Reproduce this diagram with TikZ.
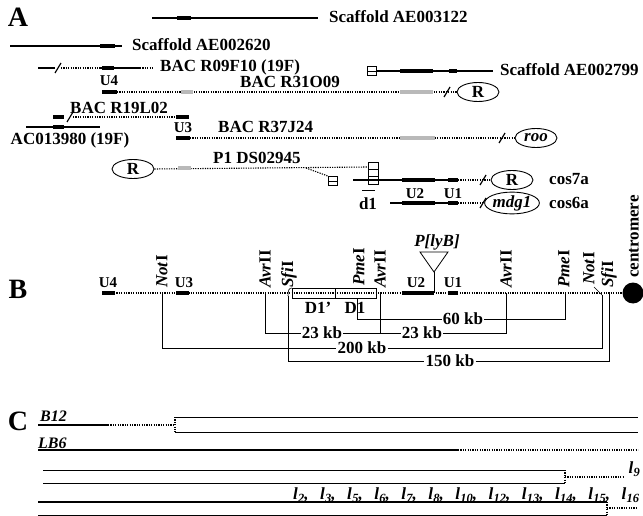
\documentclass[tikz,border=0pt]{standalone}
\usepackage{fontspec}
\setmainfont{Liberation Serif}
\usetikzlibrary{shapes.geometric}
\newcommand\lsb[1]{\textit{l}\kern0.3pt\raisebox{-3pt}{\fontsize{12.5}{13}\selectfont\bfseries\itshape #1}}
\newcommand\brkmark[2]{\draw[line width=1.2pt] ({#1-3},{#2+5}) -- ({#1+3},{#2-5});}
\begin{document}
\begin{tikzpicture}[x=1pt,y=-1pt,
  lbl/.style={font=\fontsize{17}{19}\selectfont\bfseries, inner sep=0pt},
  ulbl/.style={font=\fontsize{15}{17}\selectfont\bfseries, inner sep=0pt},
  ilbl/.style={font=\fontsize{17}{19}\selectfont\bfseries\itshape, inner sep=0pt},
  clbl/.style={font=\fontsize{16}{17}\selectfont\bfseries\itshape, inner sep=0pt},
  big/.style={font=\fontsize{28}{30}\selectfont\bfseries, inner sep=0pt},
  sline/.style={line width=1.4pt},
  thinl/.style={line width=0.8pt},
  dline/.style={line width=1.1pt, dash pattern=on 1.2pt off 1.2pt},
  blk/.style={line width=4.5pt},
  sblk/.style={line width=3.5pt},
  hatch/.style={line width=3.5pt, gray!55},
  ell/.style={draw, ellipse, line width=0.9pt, minimum width=42pt, minimum height=19pt, inner sep=0pt, font=\fontsize{17}{19}\selectfont\bfseries},
  rlbl/.style={rotate=90, anchor=west, inner sep=0pt, font=\fontsize{17}{19}\selectfont\bfseries},
  kb/.style={font=\fontsize{17}{19}\selectfont\bfseries, fill=white, inner sep=1pt},
  tk/.style={line width=0.6pt},
  sq/.style={draw, line width=0.7pt, minimum width=9pt, minimum height=9pt, inner sep=0pt},
]
\useasboundingbox (0,0) rectangle (643,516);

% ================= Panel A =================
\node[big, anchor=base] (A) at (18,27) {A};
% Scaffold AE003122
\node[lbl, anchor=base west] (tS1) at (329,23) {Scaffold AE003122};
\draw[sline] (152,18) -- (318,18);
\draw[blk] (177,18) -- (191,18);
% Scaffold AE002620
\node[lbl, anchor=base west] (tS2) at (132,51) {Scaffold AE002620};
\draw[sline] (10,46) -- (122,46);
\draw[blk] (100,46) -- (115,46);
% BAC R09F10
\node[lbl, anchor=base west] (tR09) at (160,72) {BAC R09F10 (19F)};
\draw[sline] (38,68) -- (55,68);
\brkmark{58}{68}
\draw[dline] (61,68) -- (100,68);
\draw[sline] (100,68) -- (140,68);
\draw[blk] (102,68) -- (114,68);
\draw[dline] (140,68) -- (153,68);
% Scaffold AE002799
\node[sq] (bxS) at (372,71) {};
\draw[thinl] (bxS.west) -- (bxS.east);
\node[lbl, anchor=base west] (tS3) at (500,76) {Scaffold AE002799};
\draw[sline] (bxS.east) -- (493,71);
\draw[blk] (400,71) -- (433,71);
\draw[blk] (449,71) -- (457,71);
% U4 + BAC R31O09
\node[ulbl, anchor=base] (u4a) at (109,86) {U4};
\node[lbl, anchor=base west] (tR31) at (240,88) {BAC R31O09};
\node[ell] (R1) at (478,92) {R};
\draw[blk] (102,92) -- (117,92);
\draw[dline] (117,92) -- (R1.west);
\draw[hatch] (181,92) -- (193,92);
\draw[hatch] (400,92) -- (433,92);
\brkmark{447}{92}
% BAC R19L02
\node[lbl, anchor=base west] (tR19) at (70,114) {BAC R19L02};
\draw[sblk] (53,117) -- (64,117);
\brkmark{70}{117}
\draw[dline] (73,117) -- (176,117);
\draw[blk] (176,117) -- (189,117);
% AC013980
\draw[sline] (26,127) -- (100,127);
\draw[blk] (53,127) -- (64,127);
\node[lbl, anchor=base] (tAC) at (70,145) {AC013980 (19F)};
% U3 + BAC R37J24
\node[ulbl, anchor=base] (u3a) at (183,133) {U3};
\node[lbl, anchor=base west] (tR37) at (218,133) {BAC R37J24};
\node[ell, font=\fontsize{17}{19}\selectfont\bfseries\itshape] (roo) at (536,138) {roo};
\draw[blk] (176,138) -- (190,138);
\draw[dline] (190,138) -- (roo.west);
\draw[hatch] (400,138) -- (435,138);
\brkmark{502}{138}
% P1 DS02945
\node[ell] (R2) at (133,169) {R};
\node[lbl, anchor=base west] (tP1) at (213,164) {P1 DS02945};
\draw[thinl] (368,162) rectangle (378,184);
\draw[thinl] (368,169) -- (378,169);
\draw[thinl] (368,176) -- (378,176);
\coordinate (stk) at (368,167);
\draw[dline] (R2.east) -- (stk);
\draw[hatch] (178,168) -- (191,168);
\node[sq] (bxP) at (333,181) {};
\draw[thinl] (bxP.west) -- (bxP.east);
\draw[dline] (306,168) -- (bxP.north west);
% cos7a
\node[ell] (R3) at (512,180) {R};
\node[lbl, anchor=base west] (tc7) at (549,185) {cos7a};
\draw[sline] (353,180) -- (402,180);
\draw[blk] (402,180) -- (435,180);
\draw[sline] (435,180) -- (448,180);
\draw[sblk] (448,180) -- (458,180);
\draw[dline] (458,180) -- (R3.west);
\brkmark{483}{180}
\node[ulbl, anchor=base] (u2a) at (415,198) {U2};
\node[ulbl, anchor=base] (u1a) at (453,198) {U1};
% cos6a
\draw[thinl] (362,190) -- (375,190);
\node[lbl, anchor=base] (d1) at (368,209) {d1};
\node[ell, font=\fontsize{17}{19}\selectfont\bfseries\itshape] (mdg) at (512,203) {mdg1};
\node[lbl, anchor=base west] (tc6) at (549,208) {cos6a};
\draw[sline] (390,203) -- (402,203);
\draw[blk] (402,203) -- (435,203);
\draw[sline] (435,203) -- (448,203);
\draw[sblk] (448,203) -- (458,203);
\draw[dline] (458,203) -- (mdg.west);
\brkmark{483}{203}

% ================= Panel B =================
\node[big, anchor=base] (B) at (18,298) {B};
\node[circle, fill, minimum size=21pt, inner sep=0pt] (cen) at (633,293) {};
\node[rlbl] (tcen) at (634,278) {centromere};
\draw[dline] (102,293) -- (cen.west);
\draw[blk] (102,293) -- (115,293);
\draw[blk] (176,293) -- (189,293);
\draw[blk] (402,293) -- (434,293);
\draw[sblk] (448,293) -- (458,293);
\node[ulbl, anchor=base] (u4b) at (108,287) {U4};
\node[ulbl, anchor=base] (u3b) at (184,287) {U3};
\node[ulbl, anchor=base] (u2b) at (416,287) {U2};
\node[ulbl, anchor=base] (u1b) at (453,287) {U1};
% D1' D1 box
\draw[thinl] (292,288) rectangle (376,298);
\draw[thinl] (335,288) -- (335,298);
\node[lbl, anchor=base] (d1p) at (318,313) {D1'};
\node[lbl, anchor=base] (d1b) at (355,313) {D1};
% P[lyB]
\node[ilbl, anchor=base] (plyb) at (437,247) {P[lyB]};
\draw[thinl] (420,252) -- (448,252) -- (434,272) -- cycle;
\draw[thinl] (434,272) -- (434,293);
% restriction sites
\node[rlbl] (not1) at (162,288) {\textit{Not}I};
\node[rlbl] (avr1) at (265,288) {\textit{Avr}II};
\node[rlbl] (sfi1) at (289,288) {\textit{Sfi}I};
\node[rlbl] (pme1) at (359,286) {\textit{Pme}I};
\node[rlbl] (avr2) at (380,288) {\textit{Avr}II};
\node[rlbl] (avr3) at (506,288) {\textit{Avr}II};
\node[rlbl] (pme2) at (564,288) {\textit{Pme}I};
\node[rlbl] (not2) at (589,285) {\textit{Not}I};
\node[rlbl] (sfi2) at (609,288) {\textit{Sfi}I};
\draw[tk] (288,296) .. controls (288,290) and (289,288) .. (292,288);
% distances
\node[kb] (kb60) at (463,319) {60 kb};
\draw[tk] (357,298) -- (357,319) -- (kb60.west);
\draw[tk] (kb60.east) -- (565,319) -- (565,293);
\node[kb] (kb23a) at (322,333) {23 kb};
\node[kb] (kb23b) at (422,333) {23 kb};
\draw[tk] (265,293) -- (265,333) -- (kb23a.west);
\draw[tk] (kb23a.east) -- (kb23b.west);
\draw[tk] (380,293) -- (380,333);
\draw[tk] (kb23b.east) -- (506,333) -- (506,293);
\node[kb] (kb200) at (362,348) {200 kb};
\draw[tk] (162,293) -- (162,348) -- (kb200.west);
\draw[tk] (kb200.east) -- (602,348) -- (602,295);
\draw[tk] (594,287) -- (602,295);
\node[kb] (kb150) at (450,361) {150 kb};
\draw[tk] (288,296) -- (288,361) -- (kb150.west);
\draw[tk] (kb150.east) -- (609,361) -- (609,293);

% ================= Panel C =================
\node[big, anchor=base] (C) at (18,430) {C};
% B12
\node[clbl, anchor=base west] (b12) at (40,421) {B12};
\draw[line width=2.2pt] (38,425) -- (108,425);
\draw[dline] (108,425) -- (175,425);
\draw[dline] (175,417) -- (175,432);
\draw[thinl] (175,417) -- (638,417);
\draw[thinl] (175,432) -- (638,432);
% LB6
\node[clbl, anchor=base west] (lb6) at (38,448) {LB6};
\draw[line width=1.6pt] (38,450) -- (458,450);
\draw[dline] (458,450) -- (638,450);
% l9
\draw[thinl] (43,470) -- (565,470);
\draw[thinl] (43,483) -- (565,483);
\draw[dline] (565,470) -- (565,483);
\draw[dline] (565,477) -- (624,477);
\node[ilbl, anchor=base east] (l9) at (640,473) {\lsb{9}};
% l2 ... l16
\node[ilbl, anchor=base west] (llist) at (293,499) {\makebox[346pt][l]{\lsb{2},\hfill\lsb{3},\hfill\lsb{5},\hfill\lsb{6},\hfill\lsb{7},\hfill\lsb{8},\hfill\lsb{10},\hfill\lsb{12},\hfill\lsb{13},\hfill\lsb{14},\hfill\lsb{15},\hfill\lsb{16}}};
\draw[line width=1.6pt] (38,502) -- (607,502);
\draw[thinl] (38,515) -- (607,515);
\draw[dline] (607,502) -- (607,515);
\draw[dline] (607,508) -- (638,508);
\end{tikzpicture}
\end{document}
